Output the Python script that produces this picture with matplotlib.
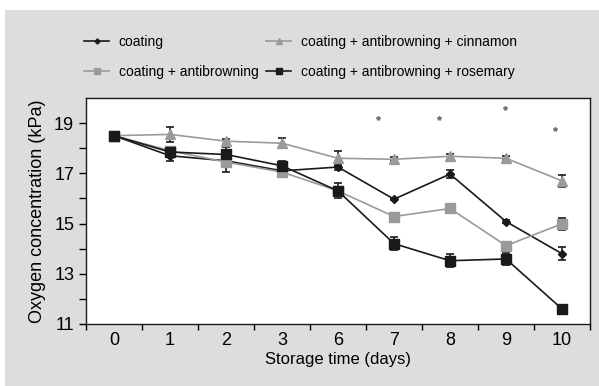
import matplotlib
matplotlib.use("Agg")
import matplotlib.pyplot as plt
from matplotlib.patches import Rectangle
import numpy as np

plt.rcParams['font.family'] = ['Liberation Sans', 'DejaVu Sans']

days = ['0', '1', '2', '3', '6', '7', '8', '9', '10']
coating = [18.5, 17.7, 17.5, 17.1, 17.25, 15.97, 16.97, 15.08, 13.8]
coating_err = [0.05, 0.2, 0.15, 0.1, 0.1, 0.05, 0.15, 0.05, 0.25]
antibrowning = [18.5, 17.9, 17.45, 17.05, 16.3, 15.28, 15.6, 14.12, 14.99]
antibrowning_err = [0.05, 0.15, 0.4, 0.1, 0.15, 0.15, 0.1, 0.15, 0.25]
cinnamon = [18.5, 18.55, 18.28, 18.2, 17.6, 17.56, 17.68, 17.6, 16.7]
cinnamon_err = [0.05, 0.3, 0.1, 0.2, 0.3, 0.08, 0.1, 0.08, 0.25]
rosemary = [18.5, 17.85, 17.75, 17.3, 16.3, 14.2, 13.52, 13.59, 11.6]
rosemary_err = [0.05, 0.2, 0.3, 0.2, 0.3, 0.25, 0.25, 0.25, 0.15]
star_x = [4.71, 5.8, 6.98, 7.875]
star_y = [19.2, 19.2, 19.6, 18.75]

fig = plt.figure(figsize=(5.99, 3.86), dpi=100)
fig.patch.set_facecolor('white')
fig.patches.append(Rectangle((5/599, 0), 1, 1 - 10/386, transform=fig.transFigure,
                             facecolor='#dcdddf', edgecolor='none', zorder=-10))

ax = fig.add_axes([86/599, 1 - 324/386, 504/599, 226/386])
ax.set_facecolor('white')
x = np.arange(len(days))

series = [
    (coating, coating_err, '#1a1a1a', 'D', 4, 'coating'),
    (antibrowning, antibrowning_err, '#9a9a9a', 's', 6.5, 'coating + antibrowning'),
    (cinnamon, cinnamon_err, '#9a9a9a', '^', 6.5, 'coating + antibrowning + cinnamon'),
    (rosemary, rosemary_err, '#1a1a1a', 's', 7, 'coating + antibrowning + rosemary'),
]
handles = {}
for vals, err, col, m, ms, lab in series:
    ax.errorbar(x, vals, yerr=err, fmt='none', ecolor='#1a1a1a', elinewidth=1.2,
                capsize=3, capthick=1.2, zorder=2)
    h, = ax.plot(x, vals, color=col, marker=m, markersize=ms, linewidth=1.2,
                 markeredgecolor=col, label=lab, zorder=3)
    handles[lab] = h

ax.plot(star_x, star_y, linestyle='none', marker='*', markersize=3, color='#777777')

ax.set_xlim(-0.5, len(days) - 0.5)
ax.set_ylim(11, 20)
ax.set_xticks(x)
ax.set_xticklabels(days)
ax.set_xticks(np.arange(-0.5, len(days), 1), minor=True)
ax.tick_params(axis='x', which='major', length=0, labelsize=13, pad=6)
ax.tick_params(axis='x', which='minor', length=4, direction='out', width=1)
ax.set_yticks([11, 13, 15, 17, 19])
ax.set_yticks([12, 14, 16, 18], minor=True)
ax.tick_params(axis='y', which='major', length=5, direction='out', labelsize=13, width=1)
ax.tick_params(axis='y', which='minor', length=5, direction='out', width=1)
for s in ax.spines.values():
    s.set_linewidth(1.0)
    s.set_color('#1a1a1a')

ax.set_xlabel('Storage time (days)', fontsize=12, labelpad=2)
ax.set_ylabel('Oxygen concentration (kPa)', fontsize=13, labelpad=6)

col1 = ['coating', 'coating + antibrowning']
col2 = ['coating + antibrowning + cinnamon', 'coating + antibrowning + rosemary']
common = dict(frameon=False, loc='upper left', fontsize=10, handlelength=1.8,
              handletextpad=0.7, labelspacing=1.15, borderpad=0, borderaxespad=0,
              markerscale=0.65)
fig.legend([handles[k] for k in col1], col1,
           bbox_to_anchor=(84/599, 1 - 35/386), **common)
fig.legend([handles[k] for k in col2], col2,
           bbox_to_anchor=(266/599, 1 - 35/386), **common)

fig.savefig('out.png', dpi=100)
